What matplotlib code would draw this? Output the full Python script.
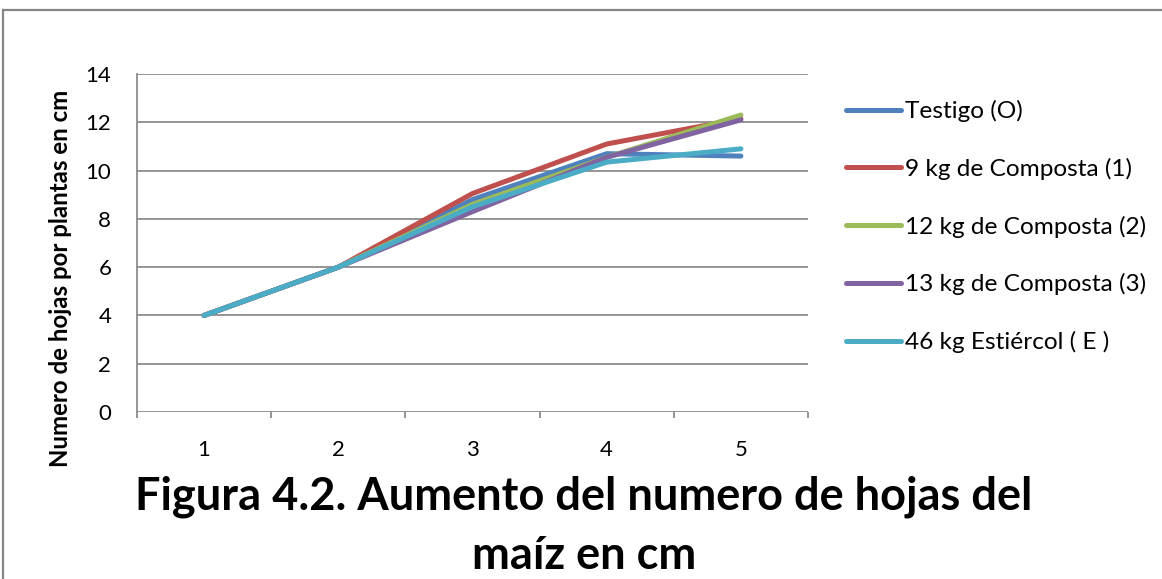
import matplotlib
matplotlib.use('Agg')
import matplotlib.pyplot as plt
from matplotlib.lines import Line2D

plt.rcParams['font.family'] = ['Lato', 'DejaVu Sans']

W, H = 1162, 579

# datos
semanas = [1, 2, 3, 4, 5]
testigo = [4.0, 6.0, 8.8, 10.7, 10.6]
composta_9 = [4.0, 6.0, 9.05, 11.1, 12.15]
composta_12 = [4.0, 6.0, 8.6, 10.55, 12.3]
composta_13 = [4.0, 6.0, 8.3, 10.55, 12.1]
estiercol_46 = [4.0, 6.0, 8.5, 10.35, 10.9]

series = [
    ('Testigo (O)', testigo, '#4F81BD'),
    ('9 kg de Composta (1)', composta_9, '#C0504D'),
    ('12 kg de Composta (2)', composta_12, '#9BBB59'),
    ('13 kg de Composta (3)', composta_13, '#8064A2'),
    ('46 kg Estiércol ( E )', estiercol_46, '#4BACC6'),
]

fig = plt.figure(figsize=(W / 100, H / 100), dpi=100)
ax = fig.add_axes([137 / W, 1 - 412 / H, (808 - 137) / W, (412 - 74) / H])

for label, vals, col in series:
    ax.plot(semanas, vals, color=col, lw=3.6, label=label, solid_capstyle='round')

ax.set_xlim(0.5, 5.5)
ax.set_ylim(0, 14)
ax.set_yticks(range(0, 15, 2))
ax.set_xticks(semanas)
ax.yaxis.grid(True, color='#8c8c8c', lw=1.3)
ax.set_axisbelow(True)
for s in ['top', 'right', 'bottom']:
    ax.spines[s].set_visible(False)
ax.spines['left'].set_color('#8c8c8c')
ax.spines['left'].set_linewidth(1.3)
ax.tick_params(axis='y', length=0, labelsize=16, pad=18.5)
ax.tick_params(axis='x', length=0, labelsize=16, pad=20)
# marcas entre categorías en el eje x
ax.set_xticks([0.5, 1.5, 2.5, 3.5, 4.5, 5.5], minor=True)
ax.tick_params(axis='x', which='minor', length=4, color='#8c8c8c', width=1.3)

fig.text(61 / W, 1 - 278 / H, 'Numero de hojas por plantas en cm', rotation=90,
         ha='center', va='center', fontsize=17.3, fontweight='bold')

leg = ax.legend(loc='upper left', bbox_to_anchor=(846 / W, 1 - 100 / H),
                bbox_transform=fig.transFigure, frameon=False, borderpad=0,
                borderaxespad=0, fontsize=17.6, handlelength=2.25,
                labelspacing=1.46, handletextpad=0.18)

fig.text(584 / W, 1 - 510 / H, 'Figura 4.2. Aumento del numero de hojas del',
         ha='center', va='baseline', fontsize=32.5, fontweight='bold')
fig.text(584 / W, 1 - 569 / H, 'maíz en cm',
         ha='center', va='baseline', fontsize=32.5, fontweight='bold')

# borde del gráfico (solo arriba e izquierda visibles)
fig.add_artist(Line2D([3 / W, 1.0], [1 - 10 / H, 1 - 10 / H], transform=fig.transFigure,
                      color='#868686', lw=1.6))
fig.add_artist(Line2D([3 / W, 3 / W], [0.0, 1 - 10 / H], transform=fig.transFigure,
                      color='#868686', lw=1.6))

fig.savefig('out.png', dpi=100)
